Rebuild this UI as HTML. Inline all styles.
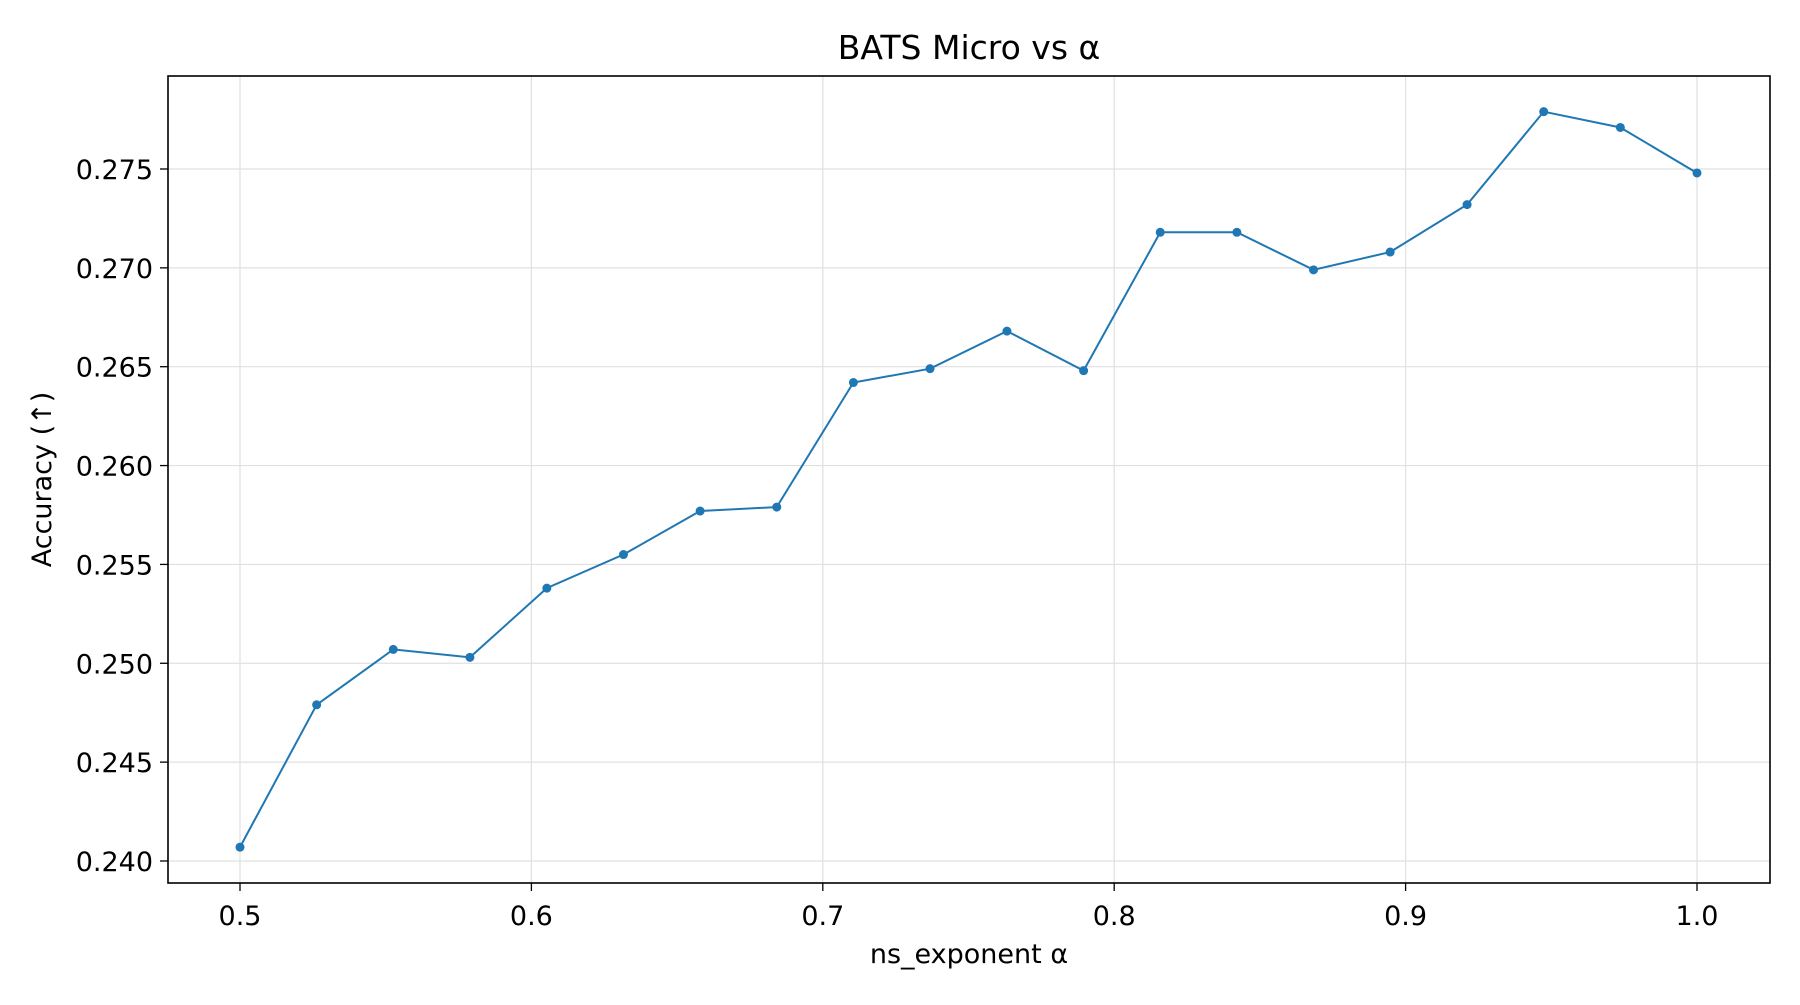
<!DOCTYPE html>
<html><head><meta charset="utf-8"><style>
body{margin:0;background:#fff}
svg text{font-family:"DejaVu Sans","Liberation Sans",sans-serif;fill:#000}
</style></head><body>
<svg id="c" width="1800" height="1000" xmlns="http://www.w3.org/2000/svg"></svg>
<script>
const alphas=[0.5,0.5263,0.5526,0.5789,0.6053,0.6316,0.6579,0.6842,0.7105,0.7368,0.7632,0.7895,0.8158,0.8421,0.8684,0.8947,0.9211,0.9474,0.9737,1.0];
const accuracy=[0.2407,0.2479,0.2507,0.2503,0.2538,0.2555,0.2577,0.2579,0.2642,0.2649,0.2668,0.2648,0.2718,0.2718,0.2699,0.2708,0.2732,0.2779,0.2771,0.2748];
const xTicks=[0.5,0.6,0.7,0.8,0.9,1.0];
const xTickLabels=["0.5","0.6","0.7","0.8","0.9","1.0"];
const yTicks=[0.240,0.245,0.250,0.255,0.260,0.265,0.270,0.275];
const yTickLabels=["0.240","0.245","0.250","0.255","0.260","0.265","0.270","0.275"];
const L=168,T=76,R=1770,B=883;
const sx=v=>1697+(v-1.0)*2914;
const sy=v=>169+(0.275-v)*19771;
const svg=document.getElementById('c');
const NS='http://www.w3.org/2000/svg';
function mk(t,a,p){const e=document.createElementNS(NS,t);for(const k in a)e.setAttribute(k,a[k]);(p||svg).appendChild(e);return e;}
xTicks.forEach((v,i)=>{
  const g=mk('line',{x1:sx(v),x2:sx(v),y1:T,y2:B,stroke:'#e0e0e0','stroke-width':1.2});
  
  
  const t=mk('line',{x1:sx(v),x2:sx(v),y1:B,y2:B+8,stroke:'#000','stroke-width':1.3});
  
  
  const l=mk('text',{x:sx(v),y:925,'text-anchor':'middle','font-size':27});
  l.textContent=xTickLabels[i];
  
  
});
yTicks.forEach((v,i)=>{
  const g=mk('line',{x1:L,x2:R,y1:sy(v),y2:sy(v),stroke:'#e0e0e0','stroke-width':1.2});
  
  
  const t=mk('line',{x1:L-8,x2:L,y1:sy(v),y2:sy(v),stroke:'#000','stroke-width':1.3});
  
  
  const l=mk('text',{x:L-15,y:sy(v)+10,'text-anchor':'end','font-size':27});
  l.textContent=yTickLabels[i];
  
  
});
const line=mk('polyline',{points:alphas.map((a,i)=>sx(a)+','+sy(accuracy[i])).join(' '),fill:'none',stroke:'#1f77b4','stroke-width':2});


alphas.forEach((a,i)=>{
  const c=mk('circle',{cx:sx(a),cy:sy(accuracy[i]),r:4.5,fill:'#1f77b4'});
  
  
});
const fr=mk('rect',{x:L,y:T,width:R-L,height:B-T,fill:'none',stroke:'#000','stroke-width':1.6});


const ti=mk('text',{x:(L+R)/2,y:59,'text-anchor':'middle','font-size':33});
ti.textContent='BATS Micro vs α';


const xl=mk('text',{x:(L+R)/2,y:963,'text-anchor':'middle','font-size':27});
xl.textContent='ns_exponent α';


const yl=mk('text',{x:0,y:0,'text-anchor':'middle','font-size':27,transform:'translate(51,'+((T+B)/2)+') rotate(-90)'});
yl.textContent='Accuracy (↑)';


</script>
</body></html>
